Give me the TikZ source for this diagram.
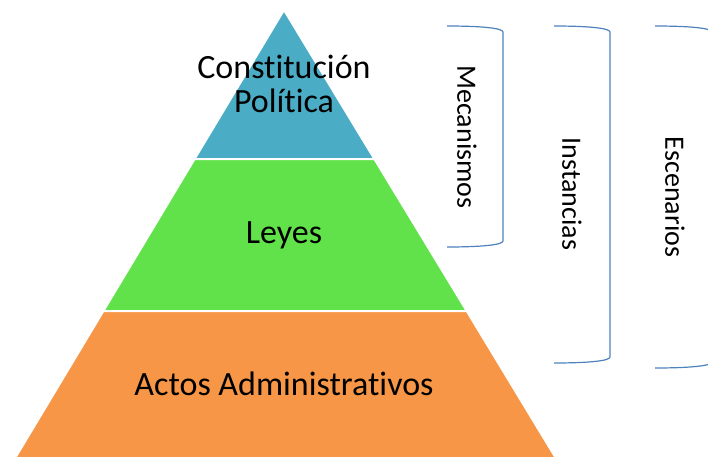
\documentclass[tikz,border=0pt]{standalone}
\usepackage{fontspec}
\setmainfont{Carlito}[Ligatures={NoCommon,NoContextual},Contextuals=NoAlternate]
\usepackage{tikz}

\begin{document}
\begin{tikzpicture}[x=0.75pt,y=0.75pt,yscale=-1,xscale=1,
  band/.style={draw=white,line width=1.5pt},
  bracket/.style={draw={rgb, 255:red, 79; green, 129; blue, 189},line width=0.9pt},
  level/.style={inner sep=0.75pt,align=center,font=\fontsize{25.5}{26}\selectfont},
  side/.style={inner sep=0.75pt,rotate=-90,font=\fontsize{21}{24}\selectfont}]
\useasboundingbox (0,0) rectangle (708,457);
\clip (0,0) rectangle (708,457);

%Shape: Triangle
\draw [band,fill={rgb, 255:red, 75; green, 172; blue, 198 }] (284,10) -- (374.4,159) -- (194.6,159) -- cycle ;
%Shape: Trapezoid
\draw [band,fill={rgb, 255:red, 97; green, 226; blue, 74 }] (194.6,159) -- (374.4,159) -- (466.7,311) -- (103.4,311) -- cycle ;
%Shape: Trapezoid
\draw [band,fill={rgb, 255:red, 247; green, 150; blue, 70 }] (103.4,311) -- (466.7,311) -- (557,460) -- (14,460) -- cycle ;

%Shape: Right Bracket
\draw [bracket] (447,26) .. controls (480,26) and (503,28) .. (503,32) -- (503,241) .. controls (503,245) and (480,247) .. (447,247) ;
%Shape: Right Bracket
\draw [bracket] (554,26) .. controls (587,26) and (610,28) .. (610,32) -- (610,357) .. controls (610,361) and (587,363) .. (554,363) ;
%Shape: Right Bracket
\draw [bracket] (655,26) .. controls (688,26) and (712,28) .. (712,32) -- (712,362) .. controls (712,366) and (688,368) .. (655,368) ;

% Text Node
\draw (284,84) node (constitucion) [level] {Constitución\\Política};
% Text Node
\draw (284,235) node (leyes) [level] {Leyes};
% Text Node
\draw (284,384) node (actos) [level] {Actos Administrativos};
% Text Node
\draw (467,137) node (mecanismos) [side] {Mecanismos};
% Text Node
\draw (572,194) node (instancias) [side] {Instancias};
% Text Node
\draw (675,197) node (escenarios) [side] {Escenarios};

\end{tikzpicture}
\end{document}
